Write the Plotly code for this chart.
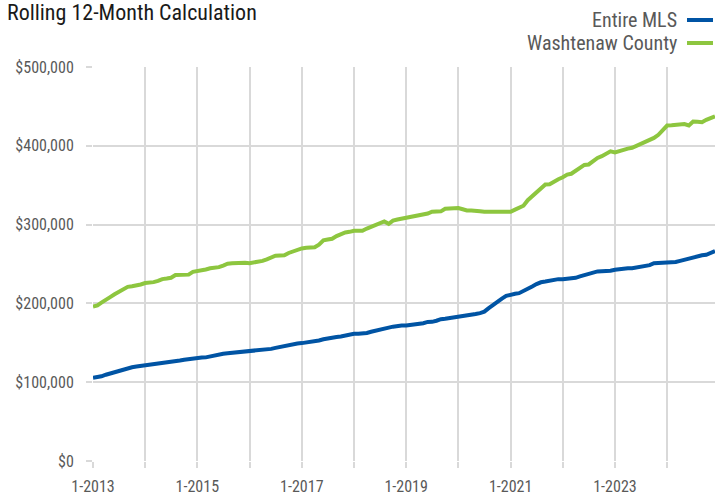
import plotly.graph_objects as go
import pandas as pd

months = pd.date_range("2013-01-01", "2024-12-01", freq="MS")

entire_mls = [
    105.5, 106, 107.5, 109.5, 111, 112.5, 115, 116.5, 117.5, 119, 119.8, 120.5,
    121, 121.5, 122.5, 123.3, 124.3, 125.4, 125.8, 126.2, 127.5, 128.5, 129.5, 130.5,
    131.3, 131.3, 131.5, 133, 134.5, 135.5, 136.2, 136.8, 137.3, 138, 139, 139.6,
    140.2, 140.5, 140.8, 141, 141.5, 142.3, 143.5, 144.8, 146.3, 147.5, 148.5, 149.2,
    149.6, 150.2, 150.8, 151.6, 153, 154.5, 155.8, 156.5, 157.3, 158, 159.3, 160.5,
    161.4, 161.5, 161.6, 162.5, 164, 165.6, 166.8, 168, 169.3, 170.5, 171.5, 171.8,
    172, 172.5, 173, 173.6, 174.8, 176.5, 176.6, 178, 180, 180.5, 181.2, 182.3,
    183.4, 184, 184.8, 185.5, 186.5, 187.7, 189.5, 194, 198.5, 202, 206, 209.5,
    211.5, 212.3, 213, 215.5, 218.5, 221.5, 224.5, 226.8, 227.7, 229, 230.8, 230.8,
    230.8, 231, 231.3, 232.5, 234.2, 236, 237.5, 240, 240.6, 240.8, 241, 241.4,
    242.7, 243.5, 244.8, 244.6, 244.5, 245.3, 246, 246.8, 248.5, 251, 251.2, 251.2,
    251.2, 251.5, 252.5, 254, 255.5, 256.3, 258, 260.5, 261, 261.7, 263.5, 266.5,
]

washtenaw = [
    196, 197.5, 201, 204, 208, 211.5, 215, 218.5, 221, 221.8, 222.5, 224,
    225.8, 226.2, 227, 228.5, 230.8, 231.5, 232.5, 236, 236, 236, 236.5, 240,
    240.6, 241.5, 243, 244.5, 245.2, 246, 248, 250.3, 250.8, 251.3, 251.8, 251.5,
    251, 252, 252.5, 254, 256, 258.5, 260.5, 260.8, 261, 264, 266, 267.5,
    269.8, 270.5, 271.3, 271.3, 274.5, 280, 281, 282, 285.5, 288.4, 290, 290.8,
    292.2, 292.2, 292.2, 295, 297.5, 300, 302, 304, 301, 305, 306.5, 307.5,
    308.8, 309.5, 310, 310.8, 311.7, 314, 316.4, 316.6, 316.8, 320.2, 320.5, 321,
    321, 319.5, 318, 318, 318, 317, 316.4, 316.2, 316.2, 316.2, 316.2, 316.2,
    316.2, 319, 321.5, 324, 331, 336, 342, 346.5, 351, 351.3, 355, 357.5,
    360, 363.4, 364.5, 368, 372, 375.7, 376.3, 381, 384.6, 386.8, 390, 393,
    391.7, 393.5, 395.5, 396.4, 397.5, 400, 402.5, 405, 407, 410, 414, 419,
    425.7, 426, 426.5, 427, 427.5, 425.8, 430.8, 430.5, 430, 433, 435.4, 437.5,
]

series_names = ["Entire MLS", "Washtenaw County"]
series_colors = ["#0054a4", "#8dc63f"]

y_ticks = [0, 100000, 200000, 300000, 400000, 500000]
y_tick_labels = ["$0", "$100,000", "$200,000", "$300,000", "$400,000", "$500,000"]

years = list(range(2013, 2025))
x_tick_vals = [pd.Timestamp(f"{y}-01-01") for y in years]
x_tick_labels = [f"1-{y}" if (y - 2013) % 2 == 0 else "" for y in years]

FONT = "Roboto Condensed, Liberation Sans Narrow, Arial Narrow, Roboto, sans-serif"

L, R, T, B = 93, 0, 67, 35
W, H = 715, 496
PW, PH = W - L - R, H - T - B

fig = go.Figure()
for name, vals, col in zip(series_names, [entire_mls, washtenaw], series_colors):
    fig.add_trace(go.Scatter(
        x=months, y=[v * 1000 for v in vals], mode="lines", name=name,
        line=dict(color=col, width=4), showlegend=False, hoverinfo="skip",
    ))

fig.update_layout(
    width=W, height=H,
    margin=dict(l=L, r=R, t=T, b=B),
    paper_bgcolor="white", plot_bgcolor="white",
    font=dict(family=FONT, color="#595959", size=15),
    title=dict(text="Rolling 12-Month Calculation", x=7 / W, xanchor="left",
               y=1 - 12 / H, yanchor="middle", font=dict(size=22, color="#1a1a1a")),
)
fig.update_xaxes(
    range=[months[0], months[-1]],
    tickmode="array", tickvals=x_tick_vals, ticktext=x_tick_labels,
    showgrid=True, gridcolor="#d9d9d9", gridwidth=2,
    ticks="outside", ticklen=6, tickcolor="#d9d9d9", tickwidth=2,
    ticklabelstandoff=5,
    showline=False, zeroline=False, tickfont=dict(size=16, color="#595959"),
)
fig.update_yaxes(
    range=[0, 500000],
    tickmode="array", tickvals=y_ticks, ticktext=y_tick_labels,
    showgrid=True, gridcolor="#d9d9d9", gridwidth=2,
    ticks="outside", ticklen=6, tickcolor="#d9d9d9", tickwidth=2,
    ticklabelstandoff=9,
    showline=False, zeroline=False, tickfont=dict(size=16, color="#595959"),
)

# legend drawn as text with a line sample to the right
legend_y = [20, 43]
for name, col, yy in zip(series_names, series_colors, legend_y):
    fig.add_annotation(
        xref="paper", yref="paper", x=(679 - L) / PW, y=1 + (T - yy) / PH,
        text=name, showarrow=False, xanchor="right", yanchor="middle",
        font=dict(size=20, color="#595959"),
    )
    fig.add_shape(
        type="line", xref="paper", yref="paper",
        x0=(687 - L) / PW, x1=(713 - L) / PW,
        y0=1 + (T - yy) / PH, y1=1 + (T - yy) / PH,
        line=dict(color=col, width=4),
    )

fig.write_html(
    "out.html",
    config={"displayModeBar": False},
    post_script="document.body.style.margin='0';document.body.style.overflow='hidden';",
)
